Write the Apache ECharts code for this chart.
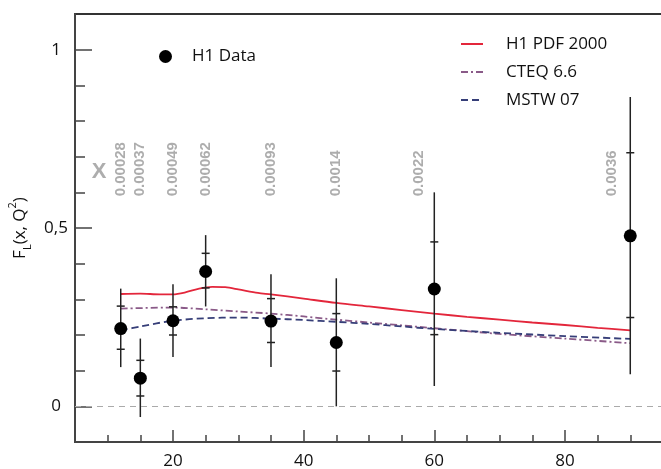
<!DOCTYPE html>
<html><head><meta charset="utf-8">
<script src="https://cdn.jsdelivr.net/npm/echarts@6/dist/echarts.min.js"></script>
<style>html,body{margin:0;padding:0;background:#fff}#c{width:661px;height:469px}</style>
</head><body><div id="c"></div><script>
// H1 data
const q2 = [12, 15, 20, 25, 35, 45, 60, 90];
const fl = [0.218, 0.079, 0.240, 0.378, 0.239, 0.179, 0.329, 0.478];
const statHi = [0.281, 0.129, 0.279, 0.429, 0.302, 0.260, 0.461, 0.711];
const statLo = [0.160, 0.029, 0.200, 0.332, 0.179, 0.099, 0.201, 0.249];
const totHi = [0.330, 0.190, 0.342, 0.480, 0.370, 0.359, 0.600, 0.867];
const totLo = [0.110, -0.030, 0.138, 0.280, 0.110, 0.000, 0.057, 0.090];
// x values of each bin (labels)
const xBinPos = [12, 15, 20, 25, 35, 45, 57.7, 87.2];
const xBinText = ['0.00028', '0.00037', '0.00049', '0.00062', '0.00093', '0.0014', '0.0022', '0.0036'];
// theory curves
const h1pdfQ2 = [12, 15, 18, 20, 22, 24, 26, 28, 30, 33, 35, 40, 45, 50, 55, 60, 65, 70, 75, 80, 85, 90];
const h1pdfFL = [0.315, 0.316, 0.314, 0.314, 0.320, 0.330, 0.335, 0.334, 0.328, 0.318, 0.314, 0.302, 0.290, 0.280, 0.270, 0.260, 0.251, 0.243, 0.235, 0.228, 0.220, 0.213];
const cteqQ2 = [12, 20, 25, 30, 35, 40, 45, 50, 55, 60, 70, 80, 90];
const cteqFL = [0.274, 0.277, 0.272, 0.266, 0.260, 0.252, 0.243, 0.235, 0.227, 0.219, 0.203, 0.190, 0.177];
const mstwQ2 = [12, 15, 20, 25, 30, 35, 40, 45, 50, 55, 60, 70, 80, 90];
const mstwFL = [0.212, 0.224, 0.240, 0.247, 0.249, 0.246, 0.242, 0.237, 0.231, 0.224, 0.217, 0.206, 0.197, 0.189];
// axis ticks
const xMajor = [20, 40, 60, 80];
const xMinor = [10, 15, 25, 30, 35, 45, 50, 55, 65, 70, 75, 85, 90, 95];
const yMajor = [0, 0.5, 1];
const yMinor = [0.1, 0.2, 0.3, 0.4, 0.6, 0.7, 0.8, 0.9];

const FONT = 'Open Sans';
const axisColor = '#444';
const zip = (a, b) => a.map((v, i) => [v, b[i]]);

const chart = echarts.init(document.getElementById('c'));
chart.setOption({
  animation: false,
  backgroundColor: '#fff',
  grid: { left: 75, top: 14, width: 601, height: 428, outerBoundsMode: 'none', containLabel: false,
    show: true, borderColor: '#333', borderWidth: 2, backgroundColor: 'transparent' },
  legend: [
    { data: ['H1 Data'], left: 154, top: 43, itemWidth: 13, itemHeight: 13,
      textStyle: { fontFamily: FONT, fontSize: 17, color: '#111', padding: [0, 0, 0, 15] } },
    { data: ['H1 PDF 2000', 'CTEQ 6.6', 'MSTW 07'], orient: 'vertical', left: 455, top: 30,
      itemWidth: 22, itemHeight: 12, itemGap: 10,
      textStyle: { fontFamily: FONT, fontSize: 17, color: '#111', lineHeight: 18, padding: [0, 0, 0, 18] } }
  ],
  xAxis: [
    { type: 'value', min: 5, max: 97, position: 'bottom',
      axisLine: { onZero: false, lineStyle: { color: axisColor, width: 2 } },
      axisTick: { inside: true, length: 12, customValues: xMajor, lineStyle: { color: axisColor, width: 1.5 } },
      axisLabel: { customValues: xMajor, fontFamily: FONT, fontSize: 17, color: '#111', margin: 11 },
      splitLine: { show: false } },
    { type: 'value', min: 5, max: 97, position: 'bottom',
      axisLine: { show: false, onZero: false },
      axisTick: { inside: true, length: 7, customValues: xMinor, lineStyle: { color: axisColor, width: 1.5 } },
      axisLabel: { show: false }, splitLine: { show: false } }
  ],
  yAxis: [
    { type: 'value', min: -0.1, max: 1.1, position: 'left',
      name: '{a|F}{b|L}{a|(x, Q}{c|2}{a|)}', nameLocation: 'middle', nameGap: 40, nameRotate: 90,
      nameTextStyle: { rich: {
        a: { fontFamily: FONT, fontSize: 17, color: '#111', lineHeight: 26 },
        b: { fontFamily: FONT, fontSize: 11, color: '#111', lineHeight: 14, verticalAlign: 'bottom' },
        c: { fontFamily: FONT, fontSize: 11, color: '#111', lineHeight: 14, verticalAlign: 'top' } } },
      axisLine: { onZero: false, lineStyle: { color: axisColor, width: 2 } },
      axisTick: { inside: true, length: 17, customValues: yMajor, lineStyle: { color: axisColor, width: 1.5 } },
      axisLabel: { customValues: yMajor, align: 'center', margin: 19, fontFamily: FONT, fontSize: 17, color: '#111',
        formatter: v => String(v).replace('.', ',') },
      splitLine: { show: false } },
    { type: 'value', min: -0.1, max: 1.1, position: 'left',
      axisLine: { show: false, onZero: false },
      axisTick: { inside: true, length: 10, customValues: yMinor, lineStyle: { color: axisColor, width: 1.5 } },
      axisLabel: { show: false }, splitLine: { show: false } }
  ],
  series: [
    { name: 'H1 PDF 2000', type: 'line', data: zip(h1pdfQ2, h1pdfFL), smooth: 0.3, symbol: 'none', z: 2,
      lineStyle: { color: '#e3263b', width: 1.8 }, itemStyle: { color: '#e3263b', opacity: 0 },
      markLine: { silent: true, symbol: ['none', 'none'], label: { show: false },
        lineStyle: { color: '#aaa', type: [6, 5], width: 1 }, data: [{ yAxis: 0 }] } },
    { name: 'CTEQ 6.6', type: 'line', data: zip(cteqQ2, cteqFL), smooth: 0.3, symbol: 'none', z: 2,
      lineStyle: { color: '#8a5a88', width: 1.8, type: [7, 3, 2, 3] }, itemStyle: { color: '#8a5a88', opacity: 0 } },
    { name: 'MSTW 07', type: 'line', data: zip(mstwQ2, mstwFL), smooth: 0.3, symbol: 'none', z: 2,
      lineStyle: { color: '#363e78', width: 1.8, type: [7, 4] }, itemStyle: { color: '#363e78', opacity: 0 } },
    { name: 'errors', type: 'custom', z: 3,
      data: q2.map((x, i) => [x, totLo[i], totHi[i], statLo[i], statHi[i]]),
      renderItem: (params, api) => {
        const x = api.value(0);
        const pLo = api.coord([x, api.value(1)]);
        const pHi = api.coord([x, api.value(2)]);
        const sLo = api.coord([x, api.value(3)]);
        const sHi = api.coord([x, api.value(4)]);
        const st = { stroke: '#222', lineWidth: 1.5 };
        return { type: 'group', children: [
          { type: 'line', shape: { x1: pLo[0], y1: pLo[1], x2: pHi[0], y2: pHi[1] }, style: st },
          { type: 'line', shape: { x1: sLo[0] - 4, y1: sLo[1], x2: sLo[0] + 4, y2: sLo[1] }, style: st },
          { type: 'line', shape: { x1: sHi[0] - 4, y1: sHi[1], x2: sHi[0] + 4, y2: sHi[1] }, style: st }
        ] };
      } },
    { name: 'H1 Data', type: 'scatter', data: zip(q2, fl), symbol: 'circle', symbolSize: 13, z: 4,
      itemStyle: { color: '#000', opacity: 1 } },
    { name: 'xlabels', type: 'scatter', symbolSize: 0, silent: true, z: 1,
      data: xBinPos.map((x, i) => [x, 0.589, xBinText[i]]),
      label: { show: true, formatter: p => p.data[2], rotate: 90, position: [0, 0], align: 'left', verticalAlign: 'middle',
        fontFamily: 'Liberation Sans', fontSize: 15, fontWeight: 'bold', color: '#999' } },
    { name: 'xsym', type: 'scatter', symbolSize: 0, silent: true, z: 1,
      data: [[8.7, 0.656, 'X']],
      label: { show: true, formatter: p => p.data[2], position: [0, 0], align: 'center', verticalAlign: 'middle',
        fontFamily: 'Liberation Sans', fontSize: 22, fontWeight: 'bold', color: '#999' } }
  ]
});
</script></body></html>
